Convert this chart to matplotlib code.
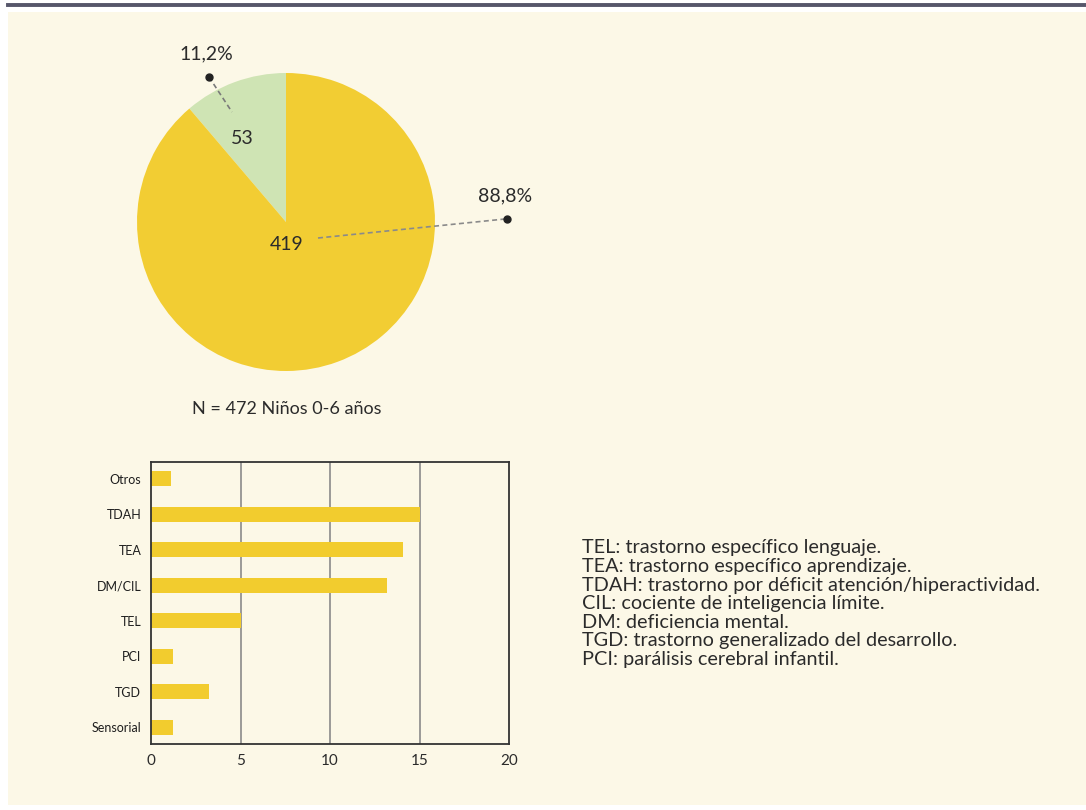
import matplotlib
matplotlib.use("Agg")
import matplotlib.pyplot as plt
from matplotlib.patches import Rectangle

plt.rcParams['font.family'] = ['Lato', 'DejaVu Sans']

# pie data
pie_values = [53, 419]
pie_labels = ["53", "419"]
pie_pct = ["11,2%", "88,8%"]
pie_colors = ["#cfe4b4", "#f2cd33"]
pie_caption = "N = 472 Niños 0-6 años"

# bar data (top to bottom)
bar_cats = ["Otros", "TDAH", "TEA", "DM/CIL", "TEL", "PCI", "TGD", "Sensorial"]
bar_vals = [1.1, 15.0, 14.1, 13.2, 5.0, 1.25, 3.25, 1.25]
bar_ticks = [0, 5, 10, 15, 20]

legend_lines = [
    "TEL: trastorno específico lenguaje.",
    "TEA: trastorno específico aprendizaje.",
    "TDAH: trastorno por déficit atención/hiperactividad.",
    "CIL: cociente de inteligencia límite.",
    "DM: deficiencia mental.",
    "TGD: trastorno generalizado del desarrollo.",
    "PCI: parálisis cerebral infantil.",
]

W, H = 1086, 810
BG = "#fcf8e7"


def box(x0, y0, x1, y1):
    # pixel box (top-left origin) -> figure fraction rect
    return [x0 / W, 1 - y1 / H, (x1 - x0) / W, (y1 - y0) / H]


fig = plt.figure(figsize=(W / 100, H / 100), dpi=100)
fig.patch.set_facecolor("white")

# cream panel and top rule
fig.patches.append(Rectangle((8 / W, 1 - 805 / H), 1, (805 - 12) / H,
                             transform=fig.transFigure, facecolor=BG,
                             edgecolor="none", zorder=-5))
fig.add_artist(plt.Line2D([8 / W, 1], [1 - 5 / H, 1 - 5 / H], color="#56566a",
                          linewidth=2.8, transform=fig.transFigure))

# ---- pie ----
cx, cy, r = 286, 222, 149
px0, px1, py0, py1 = 86, 586, 0, 440
ax = fig.add_axes(box(px0, py0, px1, py1))
ax.set_facecolor("none")
ax.pie(pie_values, colors=pie_colors, startangle=90, counterclock=True,
       radius=1, center=(0, 0), wedgeprops=dict(linewidth=0))
ax.set_xlim((px0 - cx) / r, (px1 - cx) / r)
ax.set_ylim((cy - py1) / r, (cy - py0) / r)
ax.set_aspect("auto")
ax.axis("off")


def d(x, y):
    return ((x - cx) / r, (cy - y) / r)


txt = dict(fontsize=14, color="#2b2b2b", ha="center", va="center")
# green slice
ax.plot(*zip(d(209, 77), d(232, 112)), ls=(0, (3, 2)), color="#7a7a7a", lw=1.2)
ax.plot(*d(209, 77), "o", color="#222222", ms=5)
ax.text(*d(206, 54), pie_pct[0], **txt)
ax.text(*d(242, 138), pie_labels[0], **txt)
# yellow slice
ax.plot(*zip(d(318, 238), d(505, 219)), ls=(0, (3, 2)), color="#8a8a8a", lw=1.2)
ax.plot(*d(507, 219), "o", color="#222222", ms=5)
ax.text(*d(505, 196), pie_pct[1], **txt)
ax.text(*d(287, 244), pie_labels[1], **txt)

fig.text(287 / W, 1 - 409 / H, pie_caption, fontsize=13, color="#2b2b2b",
         ha="center", va="center")

# ---- bars ----
bx = fig.add_axes(box(151, 462, 509, 744))
bx.set_facecolor("none")
ypos = list(range(len(bar_cats)))
bx.barh(ypos, bar_vals, height=0.42, color="#f2cc2e", zorder=2)
bx.set_xlim(0, 20)
bx.set_ylim(len(bar_cats) - 0.53, -0.47)
bx.set_yticks(ypos)
bx.set_yticklabels(bar_cats, fontsize=9, color="#1e1e1e")
bx.set_xticks(bar_ticks)
bx.set_xticklabels([str(t) for t in bar_ticks], fontsize=11, color="#2b2b2b")
bx.tick_params(length=0, pad=7)
for v in bar_ticks[1:-1]:
    bx.axvline(v, color="#8a8a8a", lw=1.2, zorder=1)
for s in bx.spines.values():
    s.set_color("#333333")
    s.set_linewidth(1.3)

# ---- legend text ----
for i, line in enumerate(legend_lines):
    fig.text(582 / W, 1 - (548 + i * 18.5) / H, line, fontsize=14.3,
             color="#2b2b2b", ha="left", va="center")

fig.savefig("out.png", dpi=100, facecolor="white")
